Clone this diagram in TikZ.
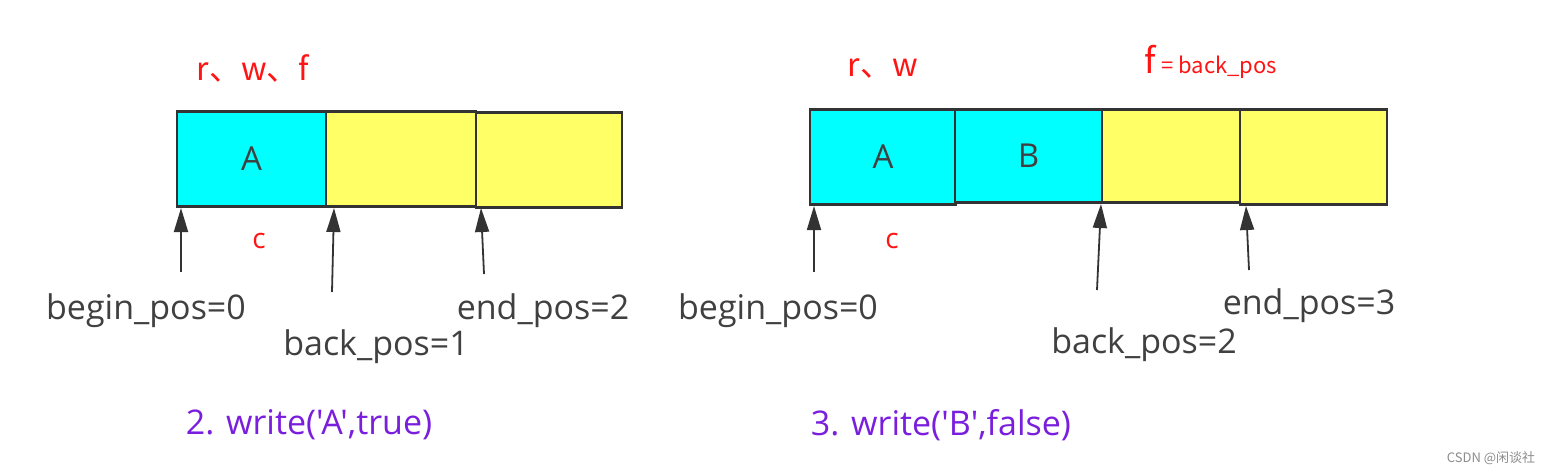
\documentclass[tikz,border=0pt]{standalone}
\usepackage{fontspec}
\setmainfont{Open Sans}
\newfontfamily\stepfont[Ligatures=ResetAll]{Open Sans}
\newfontfamily\cjk{Noto Sans CJK SC}
\usetikzlibrary{arrows.meta}
\definecolor{cellcyan}{RGB}{0,255,255}
\definecolor{cellyellow}{RGB}{255,255,102}
\definecolor{edgegray}{RGB}{51,51,51}
\definecolor{labelgray}{RGB}{64,64,64}
\definecolor{markred}{RGB}{255,20,20}
\definecolor{steppurple}{RGB}{122,30,222}
\tikzset{
  cell/.style={draw=edgegray, line width=2.6pt, minimum height=95pt, inner sep=0pt, font=\fontsize{33}{33}\selectfont, text=labelgray},
  cyancell/.style={cell, fill=cellcyan},
  yellowcell/.style={cell, fill=cellyellow},
  ptr/.style={draw=edgegray, line width=1.8pt, -{Triangle[length=24pt,width=14pt]}},
  poslabel/.style={font=\fontsize{34}{34}\selectfont, text=labelgray, inner sep=0pt},
  redmark/.style={font=\cjk\fontsize{32}{32}\selectfont, text=markred, inner sep=0pt},
  steplabel/.style={font=\stepfont\fontsize{34}{34}\selectfont, text=steppurple, inner sep=0pt},
}
\begin{document}
\begin{tikzpicture}[x=1pt,y=-1pt]
\useasboundingbox (0,0) rectangle (1558,476);
% left diagram
\node[cyancell, minimum width=149pt] (la) at (251.5,159) {A};
\node[yellowcell, minimum width=150pt] (lb) at (401,159) {};
\node[yellowcell, minimum width=146pt] (lc) at (549,160) {};
\node[redmark] (lmk) at (253,68) {r、w、f};
\node[redmark, font=\fontsize{28}{28}\selectfont] (lcc) at (259,241) {c};
\coordinate (lbt) at (181,272);
\coordinate (lbh) at (181,208);
\coordinate (lkt) at (332,292);
\coordinate (lkh) at (334,208);
\coordinate (let) at (484,274);
\coordinate (leh) at (481,208);
\draw[ptr] (lbt) -- (lbh);
\draw[ptr] (lkt) -- (lkh);
\draw[ptr] (let) -- (leh);
\node[poslabel] (lbl) at (146,311) {begin\_pos=0};
\node[poslabel] (lkl) at (376,347) {back\_pos=1};
\node[poslabel] (lel) at (543,311) {end\_pos=2};
\node[steplabel] (ls) at (309,425) {2. write('A',true)};
% right diagram
\node[cyancell, minimum width=146pt] (ra) at (883,157) {A};
\node[cyancell, minimum width=147pt, minimum height=93pt] (rb) at (1028.5,156) {B};
\node[yellowcell, minimum width=138pt, minimum height=93pt] (rc) at (1171,156) {};
\node[yellowcell, minimum width=147pt] (rd) at (1313.5,157) {};
\node[redmark] (rmk) at (883,68) {r、w};
\node[redmark, anchor=west, font=\cjk\fontsize{35}{35}\selectfont] (rf) at (1144,62) {f\,{\fontsize{22}{22}\selectfont = back\_pos}};
\node[redmark, font=\fontsize{28}{28}\selectfont] (rcc) at (892,241) {c};
\coordinate (rbt) at (814,272);
\coordinate (rbh) at (814,206);
\coordinate (rkt) at (1097,290);
\coordinate (rkh) at (1101,204);
\coordinate (ret) at (1249,270);
\coordinate (reh) at (1246,206);
\draw[ptr] (rbt) -- (rbh);
\draw[ptr] (rkt) -- (rkh);
\draw[ptr] (ret) -- (reh);
\node[poslabel] (rbl) at (778,311) {begin\_pos=0};
\node[poslabel] (rkl) at (1144,345) {back\_pos=2};
\node[poslabel] (rel) at (1309,306) {end\_pos=3};
\node[steplabel] (rs) at (941,425) {3. write('B',false)};
% watermark
\node[font=\cjk\fontsize{13}{13}\selectfont, text=black!45, inner sep=0pt] (wm) at (1491,458) {CSDN @闲谈社};
\end{tikzpicture}
\end{document}
